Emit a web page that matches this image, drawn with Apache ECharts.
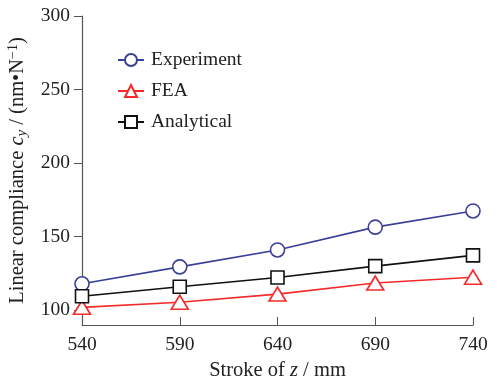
<!DOCTYPE html>
<html>
<head>
<meta charset="utf-8">
<script src="https://cdn.jsdelivr.net/npm/echarts@6/dist/echarts.min.js"></script>
<style>
  html, body { margin: 0; padding: 0; background: #fff; }
  #chart { width: 497px; height: 381px; }
</style>
</head>
<body>
<div id="chart"></div>
<script>
// stroke positions (mm)
var strokes = [540, 590, 640, 690, 740];
var experiment = [118, 129.5, 141, 156.5, 167.5];
var fea = [102, 105.5, 111, 118.5, 122.5];
var analytical = [109.5, 116, 122.3, 130, 137.3];
var yTicks = [100, 150, 200, 250, 300];

function pairs(xs, ys) {
  var out = [];
  for (var i = 0; i < xs.length; i++) out.push([xs[i], ys[i]]);
  return out;
}

var serif = 'Liberation Serif';
var axisColor = '#555';
var txt = '#222';

var chart = echarts.init(document.getElementById('chart'));
var option = {
  animation: false,
  backgroundColor: '#fff',
  textStyle: { fontFamily: serif },
  grid: { left: 82, right: 24, top: 16, bottom: 56, containLabel: false, outerBoundsMode: 'none' },
  legend: {
    orient: 'vertical',
    left: 112,
    top: 45,
    itemWidth: 26,
    itemHeight: 15,
    itemGap: 11,
    textStyle: { fontFamily: serif, fontSize: 19.5, color: txt, padding: [0, 0, 0, 2] },
    data: ['Experiment', 'FEA', 'Analytical']
  },
  xAxis: {
    type: 'value',
    min: 540,
    max: 740,
    interval: 50,
    name: '{n|Stroke of }{i|z}{n| / mm}',
    nameLocation: 'middle',
    nameGap: 35,
    nameTextStyle: {
      rich: {
        n: { fontFamily: serif, fontSize: 20.5, color: txt },
        i: { fontFamily: serif, fontSize: 20.5, fontStyle: 'italic', color: txt }
      }
    },
    axisLine: { lineStyle: { color: axisColor, width: 1.2 } },
    axisTick: { inside: true, length: 8, lineStyle: { color: axisColor } },
    axisLabel: { fontFamily: serif, fontSize: 19.5, color: txt, margin: 10 },
    splitLine: { show: false }
  },
  yAxis: {
    type: 'value',
    min: 90,
    max: 300,
    name: '{n|Linear compliance }{i|c}{s|y}{n| / (nm•N}{p|−1}{n|)}',
    nameLocation: 'middle',
    nameGap: 50,
    nameRotate: 90,
    nameTextStyle: {
      rich: {
        n: { fontFamily: serif, fontSize: 20.5, color: txt, lineHeight: 24 },
        i: { fontFamily: serif, fontSize: 20.5, fontStyle: 'italic', color: txt, lineHeight: 24 },
        s: { fontFamily: serif, fontSize: 15, fontStyle: 'italic', color: txt, verticalAlign: 'bottom', lineHeight: 15 },
        p: { fontFamily: serif, fontSize: 14, color: txt, verticalAlign: 'top', lineHeight: 13 }
      }
    },
    axisLine: { show: true, lineStyle: { color: axisColor, width: 1.2 } },
    axisTick: { show: true, length: 8, customValues: yTicks, lineStyle: { color: axisColor } },
    axisLabel: { fontFamily: serif, fontSize: 19.5, color: txt, margin: 12, customValues: yTicks },
    splitLine: { show: false }
  },
  series: [
    {
      name: 'Experiment',
      type: 'line',
      data: pairs(strokes, experiment),
      symbol: 'circle',
      symbolSize: 14,
      lineStyle: { color: '#3a3f98', width: 1.6 },
      itemStyle: { color: '#fff', borderColor: '#3a3f98', borderWidth: 1.6 }
    },
    {
      name: 'FEA',
      type: 'line',
      data: pairs(strokes, fea),
      symbol: 'triangle',
      symbolSize: [17, 14],
      lineStyle: { color: '#f52a2a', width: 1.6 },
      itemStyle: { color: '#fff', borderColor: '#f52a2a', borderWidth: 1.6 }
    },
    {
      name: 'Analytical',
      type: 'line',
      data: pairs(strokes, analytical),
      symbol: 'rect',
      symbolSize: 13,
      lineStyle: { color: '#111', width: 1.6 },
      itemStyle: { color: '#fff', borderColor: '#111', borderWidth: 1.6 }
    }
  ]
};
chart.setOption(option);
</script>
</body>
</html>
